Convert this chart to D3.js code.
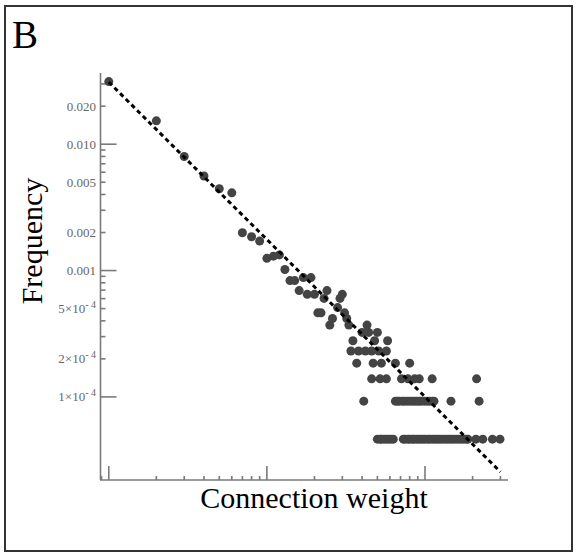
<!DOCTYPE html>
<html>
<head>
<meta charset="utf-8">
<script src="https://cdn.jsdelivr.net/npm/d3@7/dist/d3.min.js"></script>
<style>
    body { margin: 0; background: white; }
    text { font-family: "Liberation Serif", "Times New Roman", serif; }
</style>
</head>
<body>
<script>
// spridda punkter (vikt, frekvens)
const weight = [1, 2, 3, 4, 5, 6, 7, 8, 9, 10, 11, 12, 13, 14, 15, 16, 17, 18, 19, 20,
    21, 22, 23, 24, 25, 26, 28, 29, 30, 31, 32, 33, 35, 40, 43, 44, 48, 50, 58];
const freq = [0.0313, 0.0153, 0.0080, 0.0056, 0.00444, 0.00412, 0.00199, 0.00185, 0.00171, 0.00125,
    0.00130, 0.00133, 0.00102, 8.33e-4, 8.33e-4, 6.94e-4, 8.80e-4, 6.48e-4, 8.80e-4, 6.48e-4,
    4.63e-4, 4.63e-4, 6.02e-4, 6.94e-4, 3.70e-4, 4.17e-4, 5.09e-4, 6.02e-4, 6.48e-4, 4.63e-4,
    4.17e-4, 3.70e-4, 2.78e-4, 3.24e-4, 3.70e-4, 3.24e-4, 2.78e-4, 3.24e-4, 2.78e-4];

// vågräta rader längst ner (samma frekvens i varje rad)
const rowFreq = [2.31e-4, 1.85e-4, 1.39e-4, 9.26e-5, 4.63e-5];
const rowWeights = [
    [34, 38, 42, 46, 51, 57],
    [37, 47, 53, 65, 80],
    [46, 52, 57, 71, 78, 86, 92, 111, 212],
    [41, 65, 67, 69, 72, 74, 77, 80, 83, 86, 89, 92, 95, 99, 103, 107, 111, 114, 146, 220],
    [50, 52, 53, 55, 57, 59, 61, 63, 73, 75, 78, 80, 83, 85, 88, 91, 94, 97, 100, 104, 107,
        111, 115, 119, 123, 127, 132, 137, 142, 147, 152, 158, 164, 170, 176, 182, 187,
        210, 232, 267, 298]
];

// anpassad linje (ändpunkter)
const fitWeight = [1, 300];
const fitFreq = [0.031, 2.55e-5];

// y-axelns etiketter
const yLabelValues = [0.02, 0.01, 0.005, 0.002, 0.001, 5e-4, 2e-4, 1e-4];
const yLabelText = ['0.020', '0.010', '0.005', '0.002', '0.001', '5', '2', '1'];

const points = [];
weight.forEach((w, i) => points.push({ w: w, f: freq[i] }));
rowWeights.forEach((row, r) => row.forEach(w => points.push({ w: w, f: rowFreq[r] })));

const svg = d3.select('body')
    .append('svg')
    .attr('width', 577)
    .attr('height', 556);

// ram runt figuren
svg.append('rect')
    .attr('x', 5).attr('y', 6)
    .attr('width', 567).attr('height', 545)
    .attr('fill', 'none')
    .attr('stroke', '#333')
    .attr('stroke-width', 2);

svg.append('text')
    .attr('x', 12).attr('y', 48)
    .attr('font-size', 39)
    .text('B');

const x = d3.scaleLog().domain([0.88, 335]).range([100, 508]);
const y = d3.scaleLog().domain([2.2e-5, 0.0366]).range([480, 73]);

const axisColor = '#7a7a7a';
const x0 = 100.5;
const y0 = 480;

// tickvärden från skalorna, stora streck vid varje dekad
const isMajor = v => Math.abs(Math.log10(v) - Math.round(Math.log10(v))) < 1e-6;
const yTicks = y.ticks().filter(v => v >= 9.9e-5);
const xTicks = x.ticks();

const axes = svg.append('g')
    .attr('stroke', axisColor)
    .attr('stroke-width', 1.6);

// axellinjer
axes.append('line')
    .attr('x1', x0).attr('x2', x0)
    .attr('y1', y.range()[1]).attr('y2', y0);
axes.append('line')
    .attr('x1', x.range()[0]).attr('x2', x.range()[1])
    .attr('y1', y0).attr('y2', y0);

// streck inåt
axes.selectAll('line.ytick')
    .data(yTicks)
    .enter()
    .append('line')
    .attr('class', 'ytick')
    .attr('x1', x0)
    .attr('x2', d => x0 + (isMajor(d) ? 16 : 5))
    .attr('y1', d => y(d))
    .attr('y2', d => y(d));

axes.selectAll('line.xtick')
    .data(xTicks)
    .enter()
    .append('line')
    .attr('class', 'xtick')
    .attr('x1', d => x(d))
    .attr('x2', d => x(d))
    .attr('y1', y0)
    .attr('y2', d => y0 - (isMajor(d) ? 14 : 4));

// etiketter
yLabelValues.forEach((v, i) => {
    const t = svg.append('text')
        .attr('x', 96)
        .attr('y', y(v))
        .attr('dy', '0.35em')
        .attr('text-anchor', 'end')
        .attr('font-size', 13)
        .attr('fill', '#666');
    if (v >= 0.001) {
        t.text(yLabelText[i]);
    } else {
        t.append('tspan').text(yLabelText[i] + '\u00d710');
        t.append('tspan')
            .attr('dy', -5)
            .attr('font-size', 10)
            .text('- 4');
    }
});

svg.append('text')
    .attr('x', 314).attr('y', 508)
    .attr('text-anchor', 'middle')
    .attr('font-size', 30)
    .text('Connection weight');

svg.append('text')
    .attr('transform', 'translate(42,241) rotate(-90)')
    .attr('text-anchor', 'middle')
    .attr('font-size', 30)
    .text('Frequency');

// punkter
svg.selectAll('circle')
    .data(points)
    .enter()
    .append('circle')
    .attr('cx', d => x(d.w))
    .attr('cy', d => y(d.f))
    .attr('r', 4.5)
    .attr('fill', '#444');

// streckad linje ovanpå punkterna
const lineGenerator = d3.line();
svg.append('path')
    .attr('d', lineGenerator(fitWeight.map((w, i) => [x(w), y(fitFreq[i])])))
    .attr('stroke', 'black')
    .attr('stroke-width', 3)
    .attr('stroke-dasharray', '4.5,3.5')
    .attr('fill', 'none');
</script>
</body>
</html>
